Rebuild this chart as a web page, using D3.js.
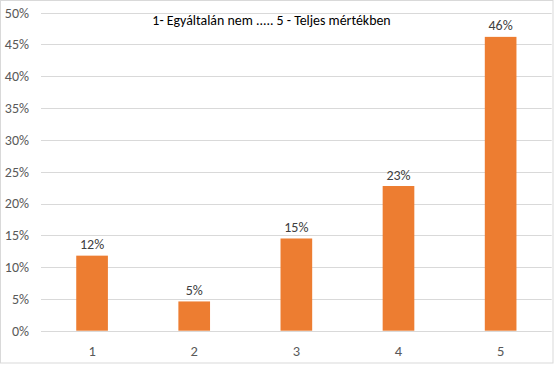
<!DOCTYPE html>
<html>
<head>
<meta charset="utf-8">
<script src="https://cdn.jsdelivr.net/npm/d3@7"></script>
<style>
  html, body { margin: 0; padding: 0; background: #fff; }
  svg { display: block; }
  text { font-family: Carlito, Calibri, "Open Sans", "Noto Sans", sans-serif; }
</style>
</head>
<body>
<script>
const title = "1- Egyáltalán nem ..... 5 - Teljes mértékben";
const categories = ["1", "2", "3", "4", "5"];
const values = [0.118, 0.046, 0.145, 0.2275, 0.462];
const labels = ["12%", "5%", "15%", "23%", "46%"];
const yTicks = [0, 0.05, 0.10, 0.15, 0.20, 0.25, 0.30, 0.35, 0.40, 0.45, 0.50];

const W = 560, H = 365;
const svg = d3.select("body").append("svg").attr("width", W).attr("height", H);

// chart border
svg.append("rect").attr("x", 0.5).attr("y", 0.5).attr("width", 552.5).attr("height", 362.5)
  .attr("fill", "#fff").attr("stroke", "#d9d9d9").attr("stroke-width", 1);

const pLeft = 41, pRight = 551.7, pTop = 12.7, pBottom = 330.7;
const x = d3.scaleBand().domain(categories).range([pLeft, pRight]).paddingInner(0.69).paddingOuter(0.345);
const y = d3.scaleLinear().domain([0, 0.5]).range([pBottom, pTop]);

// gridlines
svg.append("g").selectAll("line").data(yTicks).join("line")
  .attr("x1", pLeft).attr("x2", pRight)
  .attr("y1", d => Math.round(y(d)) + 0.5).attr("y2", d => Math.round(y(d)) + 0.5)
  .attr("stroke", "#d9d9d9").attr("stroke-width", 1);

// y axis labels
const yAxis = d3.axisLeft(y).tickValues(yTicks).tickFormat(d3.format(".0%")).tickSize(0).tickPadding(0);
const gy = svg.append("g").attr("transform", `translate(29,0)`).call(yAxis);
gy.select(".domain").remove();
gy.selectAll("text").attr("fill", "#595959").style("font-size", "14px")
  .style("font-family", 'Carlito, Calibri, "Open Sans", "Noto Sans", sans-serif');

// x axis labels
const xAxis = d3.axisBottom(x).tickSize(0).tickPadding(0);
const gx = svg.append("g").attr("transform", `translate(0,${pBottom})`).call(xAxis);
gx.select(".domain").remove();
gx.selectAll("text").attr("fill", "#595959").attr("dy", null).attr("y", 25.5)
  .style("font-size", "14.5px")
  .style("font-family", 'Carlito, Calibri, "Open Sans", "Noto Sans", sans-serif');

// bars
svg.append("g").selectAll("rect").data(values).join("rect")
  .attr("x", (d, i) => x(categories[i]))
  .attr("width", x.bandwidth())
  .attr("y", d => y(d))
  .attr("height", d => y(0) - y(d))
  .attr("fill", "#ED7D31");

// data labels
svg.append("g").selectAll("text").data(values).join("text")
  .attr("x", (d, i) => x(categories[i]) + x.bandwidth() / 2)
  .attr("y", d => y(d) - 6.5)
  .attr("text-anchor", "middle")
  .attr("fill", "#404040")
  .style("font-size", "14px")
  .text((d, i) => labels[i]);

// title
svg.append("text").attr("x", 271.5).attr("y", 25).attr("text-anchor", "middle")
  .attr("fill", "#000").style("font-size", "13.9px").text(title);
</script>
</body>
</html>
